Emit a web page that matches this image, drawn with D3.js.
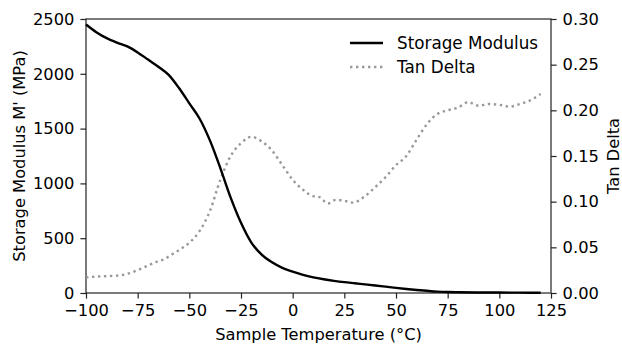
<!DOCTYPE html>
<html>
<head>
<script src="https://d3js.org/d3.v7.min.js"></script>
<style>
  body { margin: 0; background: #fff; }
  svg text { font-family: "DejaVu Sans", sans-serif; fill: #000; }
</style>
</head>
<body>
<div id="chart"></div>
<script>
// temperatures (°C) and storage modulus (MPa)
const tempM = [-100, -95, -90, -85, -80, -75, -70, -65, -60, -55, -50, -45, -40, -35, -30, -25, -20, -15, -10, -5, 0, 5, 10, 15, 20, 25, 30, 35, 40, 45, 50, 55, 60, 65, 70, 75, 80, 90, 100, 110, 120];
const storageModulus = [2450, 2380, 2325, 2285, 2250, 2195, 2130, 2065, 1990, 1870, 1730, 1590, 1390, 1140, 870, 640, 460, 350, 280, 230, 195, 165, 142, 125, 111, 99, 89, 79, 69, 58, 47, 37, 28, 20, 13, 9, 7, 5, 4, 3, 2];

// temperatures (°C) and tan delta
const tempT = [-100, -95, -90, -85, -80, -75, -70, -65, -62, -60, -55, -50, -45, -40, -35, -30, -25, -20, -15, -10, -5, 0, 5, 10, 13, 17, 21, 25, 29, 35, 40, 45, 50, 55, 60, 65, 70, 75, 80, 85, 90, 95, 100, 105, 110, 115, 120];
const tanDelta = [0.017, 0.018, 0.0185, 0.019, 0.021, 0.025, 0.030, 0.035, 0.037, 0.040, 0.047, 0.055, 0.068, 0.090, 0.124, 0.150, 0.164, 0.171, 0.166, 0.156, 0.140, 0.124, 0.113, 0.106, 0.105, 0.098, 0.102, 0.101, 0.099, 0.106, 0.116, 0.127, 0.140, 0.150, 0.168, 0.185, 0.196, 0.200, 0.203, 0.209, 0.205, 0.207, 0.206, 0.204, 0.207, 0.211, 0.218];

const xTicks = [-100, -75, -50, -25, 0, 25, 50, 75, 100, 125];
const yLeftTicks = [0, 500, 1000, 1500, 2000, 2500];
const yRightTicks = [0, 0.05, 0.10, 0.15, 0.20, 0.25, 0.30];

const W = 622, H = 345;
const m = { left: 86, right: 71, top: 19, bottom: 52 };

const svg = d3.select("#chart").append("svg")
    .attr("width", W).attr("height", H);

const x = d3.scaleLinear().domain([-100, 125]).range([m.left, W - m.right]);
const yL = d3.scaleLinear().domain([0, 2500]).range([H - m.bottom, m.top]);
const yR = d3.scaleLinear().domain([0, 0.30]).range([H - m.bottom, m.top]);

const fs = 16.3;
const minus = s => String(s).replace("-", "\u2212");

// axes
const gx = svg.append("g").attr("transform", `translate(0,${H - m.bottom})`)
    .call(d3.axisBottom(x).tickValues(xTicks).tickSize(5.6).tickPadding(6).tickFormat(d => minus(d)));
const gl = svg.append("g").attr("transform", `translate(${m.left},0)`)
    .call(d3.axisLeft(yL).tickValues(yLeftTicks).tickSize(5.6).tickPadding(6).tickFormat(d => d));
const gr = svg.append("g").attr("transform", `translate(${W - m.right},0)`)
    .call(d3.axisRight(yR).tickValues(yRightTicks).tickSize(5.6).tickPadding(6).tickFormat(d3.format(".2f")));

[gx, gl, gr].forEach(g => {
    g.select(".domain").remove();
    g.selectAll(".tick line").attr("stroke", "#222").attr("stroke-width", 1.2);
    g.selectAll(".tick text").style("font-size", fs + "px").attr("fill", "#000");
});

// frame
svg.append("rect")
    .attr("x", m.left).attr("y", m.top)
    .attr("width", W - m.left - m.right).attr("height", H - m.top - m.bottom)
    .attr("fill", "none").attr("stroke", "#222").attr("stroke-width", 1.2);

// lines
const lineM = d3.line().x((d, i) => x(tempM[i])).y(d => yL(d)).curve(d3.curveMonotoneX);
const lineT = d3.line().x((d, i) => x(tempT[i])).y(d => yR(d)).curve(d3.curveMonotoneX);

svg.append("path").datum(tanDelta).attr("d", lineT)
    .attr("fill", "none").attr("stroke", "#999").attr("stroke-width", 2.4)
    .attr("stroke-dasharray", "2.4,3.6");
svg.append("path").datum(storageModulus).attr("d", lineM)
    .attr("fill", "none").attr("stroke", "#000").attr("stroke-width", 2.4);

// axis labels
svg.append("text").attr("x", (m.left + W - m.right) / 2).attr("y", 340)
    .attr("text-anchor", "middle").style("font-size", fs + "px")
    .text("Sample Temperature (°C)");
svg.append("text").attr("transform", `translate(24.5,${(m.top + H - m.bottom) / 2}) rotate(-90)`)
    .attr("text-anchor", "middle").style("font-size", fs + "px")
    .text("Storage Modulus M' (MPa)");
svg.append("text").attr("transform", `translate(618.5,${(m.top + H - m.bottom) / 2}) rotate(-90)`)
    .attr("text-anchor", "middle").style("font-size", fs + "px")
    .text("Tan Delta");

// legend
const legend = svg.append("g");
legend.append("line").attr("x1", 350).attr("x2", 383).attr("y1", 43).attr("y2", 43)
    .attr("stroke", "#000").attr("stroke-width", 2.4);
legend.append("line").attr("x1", 350).attr("x2", 383).attr("y1", 67).attr("y2", 67)
    .attr("stroke", "#999").attr("stroke-width", 2.4).attr("stroke-dasharray", "2.4,3.6");
legend.append("text").attr("x", 397).attr("y", 48.5).style("font-size", "16.8px").text("Storage Modulus");
legend.append("text").attr("x", 397).attr("y", 72.5).style("font-size", "16.8px").text("Tan Delta");
</script>
</body>
</html>
